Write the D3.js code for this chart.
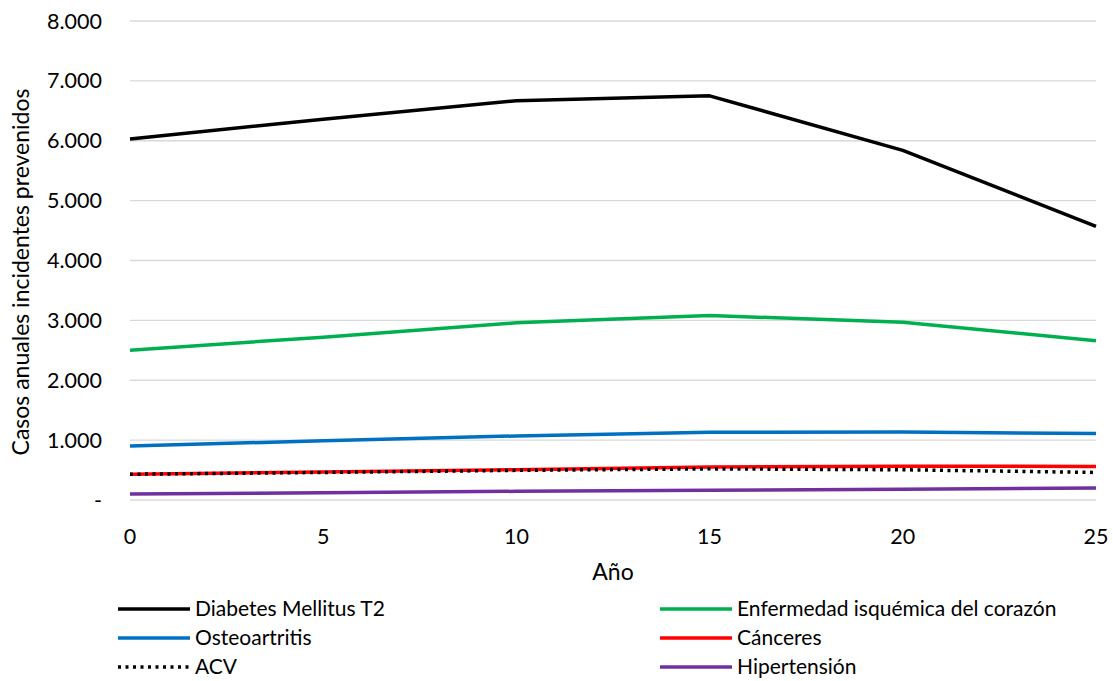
<!DOCTYPE html>
<html>
<head>
<meta charset="utf-8">
<script src="https://cdn.jsdelivr.net/npm/d3@7"></script>
<style>
  body { margin: 0; background: #fff; }
  text { font-family: Lato, "Open Sans", sans-serif; fill: #000; }
</style>
</head>
<body>
<svg width="1113" height="681"></svg>
<script>
// datos
const anios = [0, 5, 10, 15, 20, 25];
const diabetes = [6030, 6360, 6670, 6750, 5840, 4570];
const corazon = [2500, 2720, 2960, 3080, 2970, 2660];
const osteo = [900, 990, 1070, 1130, 1135, 1110];
const canceres = [430, 467, 505, 550, 565, 560];
const acv = [430, 460, 495, 520, 505, 460];
const hipertension = [100, 122, 145, 162, 178, 200];
const yTicks = [0, 1000, 2000, 3000, 4000, 5000, 6000, 7000, 8000];

const series = [
  { nombre: "Diabetes Mellitus T2", valores: diabetes, color: "#000000" },
  { nombre: "Enfermedad isquémica del corazón", valores: corazon, color: "#00b050" },
  { nombre: "Osteoartritis", valores: osteo, color: "#0070c0" },
  { nombre: "Cánceres", valores: canceres, color: "#ff0000" },
  { nombre: "ACV", valores: acv, color: "#000000", punteada: true },
  { nombre: "Hipertensión", valores: hipertension, color: "#7030a0" }
];

const svg = d3.select("svg");
const m = { left: 130, right: 1096, top: 21, bottom: 500 };

const x = d3.scaleLinear().domain([0, 25]).range([m.left, m.right]);
const y = d3.scaleLinear().domain([0, 8000]).range([m.bottom, m.top]);

const fmt = v => v === 0 ? "-" : d3.format(",")(v).replace(/,/g, ".");

// líneas de cuadrícula
svg.append("g").selectAll("line")
  .data(yTicks)
  .enter().append("line")
  .attr("x1", m.left).attr("x2", m.right)
  .attr("y1", d => y(d)).attr("y2", d => y(d))
  .attr("stroke", "#d9d9d9").attr("stroke-width", 1.3);

// etiquetas eje y
svg.append("g").selectAll("text")
  .data(yTicks)
  .enter().append("text")
  .attr("x", 102)
  .attr("y", d => y(d))
  .attr("dy", "0.35em")
  .attr("text-anchor", "end")
  .style("font-size", "21.5px")
  .text(fmt);

// etiquetas eje x
svg.append("g").selectAll("text")
  .data(anios)
  .enter().append("text")
  .attr("x", d => x(d))
  .attr("y", 536)
  .attr("dy", "0.35em")
  .attr("text-anchor", "middle")
  .style("font-size", "21.5px")
  .text(d => d);

svg.append("text")
  .attr("x", (m.left + m.right) / 2)
  .attr("y", 572)
  .attr("dy", "0.35em")
  .attr("text-anchor", "middle")
  .style("font-size", "23px")
  .text("Año");

svg.append("text")
  .attr("transform", "translate(21,272) rotate(-90)")
  .attr("dy", "0.35em")
  .attr("text-anchor", "middle")
  .style("font-size", "23px")
  .text("Casos anuales incidentes prevenidos");

// líneas de datos
const linea = d3.line()
  .x((d, i) => x(anios[i]))
  .y(d => y(d));

svg.append("g").selectAll("path")
  .data(series)
  .enter().append("path")
  .attr("d", d => linea(d.valores))
  .attr("fill", "none")
  .attr("stroke", d => d.color)
  .attr("stroke-width", 3.5)
  .attr("stroke-dasharray", d => d.punteada ? "3,4.5" : null)
  .attr("stroke-linejoin", "round");

// leyenda
const leyenda = svg.append("g").selectAll("g")
  .data(series)
  .enter().append("g")
  .attr("transform", (d, i) => "translate(" + (i % 2 === 0 ? 118 : 660) + "," + (609 + Math.floor(i / 2) * 29) + ")");

leyenda.append("line")
  .attr("x1", 0).attr("x2", 72)
  .attr("stroke", d => d.color)
  .attr("stroke-width", 3.5)
  .attr("stroke-dasharray", d => d.punteada ? "3,4.5" : null);

leyenda.append("text")
  .attr("x", 77)
  .attr("dy", "0.35em")
  .style("font-size", "21px")
  .text(d => d.nombre);
</script>
</body>
</html>
